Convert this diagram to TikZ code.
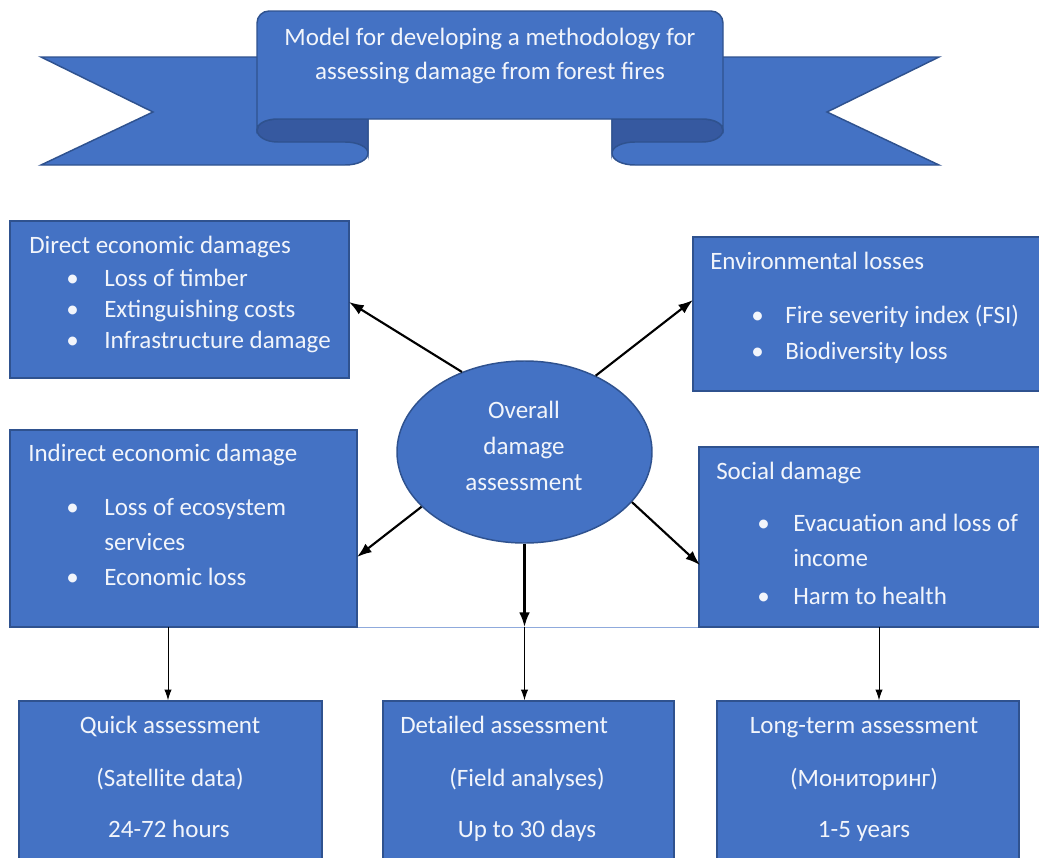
\documentclass[tikz,border=0pt]{standalone}
\usepackage{fontspec}
\setmainfont{Carlito}
\usetikzlibrary{arrows.meta,shapes.geometric}
\definecolor{fillblue}{HTML}{4472C4}
\definecolor{edgeblue}{HTML}{2F528F}
\definecolor{foldblue}{HTML}{3659A0}
\definecolor{lineblue}{HTML}{8FAADC}
\definecolor{txt}{HTML}{F2F5FB}
\begin{document}
\begin{tikzpicture}[x=0.75pt,y=-0.75pt,
  panel/.style={fill=fillblue,draw=edgeblue,line width=1.1pt},
  foldpart/.style={fill=foldblue,draw=edgeblue,line width=1.1pt},
  box/.style={panel,rectangle,inner sep=0pt},
  lbl/.style={text=txt,font=\fontsize{18.75}{23}\selectfont,inner sep=0pt,anchor=base west},
  clbl/.style={lbl,anchor=base},
  bigarrow/.style={line width=1.6pt,-{Latex[length=11pt,width=8pt]}},
  smallarrow/.style={line width=0.7pt,-{Latex[length=8pt,width=5.5pt]}}
]
\useasboundingbox (0,0) rectangle (1039,857);
\clip (0,0) rectangle (1039,857);

% ---- banner ----
\draw[panel] (41,57) -- (368,57) -- (368,153) .. controls (368,160) and (358,165) .. (345,165) -- (41,165) -- (153,112) -- cycle;
\draw[panel] (939,57) -- (612,57) -- (612,153) .. controls (612,160) and (622,165) .. (635,165) -- (939,165) -- (827,112) -- cycle;
\draw[foldpart] (257,130) .. controls (257,124) and (265,119) .. (278,119) -- (368,119) -- (368,153) .. controls (368,147) and (358,142) .. (345,142) -- (278,142) .. controls (265,142) and (257,136) .. (257,130) -- cycle;
\draw[foldpart] (723,130) .. controls (723,124) and (715,119) .. (702,119) -- (612,119) -- (612,153) .. controls (612,147) and (622,142) .. (635,142) -- (702,142) .. controls (715,142) and (723,136) .. (723,130) -- cycle;
\draw[panel] (257,130) [rounded corners=9pt] -- (257,11) -- (723,11) [sharp corners] -- (723,130) .. controls (723,124) and (715,119) .. (702,119) -- (278,119) .. controls (265,119) and (257,124) .. (257,130) -- cycle;
\node[clbl] (t1) at (490,45) {Model for developing a methodology for};
\node[clbl] (t2) at (490,79) {assessing damage from forest fires};

% ---- boxes ----
\node[box,minimum width=254.25pt,minimum height=117.75pt] (direct) at (179.5,299.5) {};
\node[box,minimum width=260.25pt,minimum height=115.5pt] (env) at (866.5,314) {};
\node[box,minimum width=260.25pt,minimum height=147.75pt] (indirect) at (183.5,528.5) {};
\node[box,minimum width=255.75pt,minimum height=135pt] (social) at (869.5,537) {};
\node[box,minimum width=227.25pt,minimum height=134.25pt] (quick) at (170.5,790.5) {};
\node[box,minimum width=218.25pt,minimum height=134.25pt] (detailed) at (528.5,790.5) {};
\node[box,minimum width=226.5pt,minimum height=134.25pt] (long) at (868,790.5) {};
\node[panel,ellipse,inner sep=0pt,minimum width=191.25pt,minimum height=136.5pt] (ov) at (524.5,452) {};

% ---- texts ----
\node[lbl] (d0) at (29,253) {Direct economic damages};
\node[lbl] (d1b) at (66,286) {•};
\node[lbl] (d1) at (104,286) {Loss of timber};
\node[lbl] (d2b) at (66,317) {•};
\node[lbl] (d2) at (104,317) {Extinguishing costs};
\node[lbl] (d3b) at (66,348) {•};
\node[lbl] (d3) at (104,348) {Infrastructure damage};

\node[lbl] (e0) at (710,269) {Environmental losses};
\node[lbl] (e1b) at (751,323) {•};
\node[lbl] (e1) at (785,323) {Fire severity index (FSI)};
\node[lbl] (e2b) at (751,359) {•};
\node[lbl] (e2) at (785,359) {Biodiversity loss};

\node[lbl] (i0) at (28,461) {Indirect economic damage};
\node[lbl] (i1b) at (66,515) {•};
\node[lbl] (i1) at (104,515) {Loss of ecosystem};
\node[lbl] (i1c) at (104,550) {services};
\node[lbl] (i2b) at (66,585) {•};
\node[lbl] (i2) at (104,585) {Economic loss};

\node[lbl] (s0) at (716,479) {Social damage};
\node[lbl] (s1b) at (757,531) {•};
\node[lbl] (s1) at (793,531) {Evacuation and loss of};
\node[lbl] (s1c) at (793,566) {income};
\node[lbl] (s2b) at (757,604) {•};
\node[lbl] (s2) at (793,604) {Harm to health};

\node[clbl] (o1) at (524,418) {Overall};
\node[clbl] (o2) at (524,454) {damage};
\node[clbl] (o3) at (524,490) {assessment};

\node[clbl] (q1) at (170,733) {Quick assessment};
\node[clbl] (q2) at (170,786) {(Satellite data)};
\node[clbl] (q3) at (169,837) {24-72 hours};
\node[lbl] (f1) at (400,733) {Detailed assessment};
\node[clbl] (f2) at (527,786) {(Field analyses)};
\node[clbl] (f3) at (527,837) {Up to 30 days};
\node[clbl] (l1) at (864,733) {Long-term assessment};
\node[clbl] (l2) at (864,786) {(Мониторинг)};
\node[clbl] (l3) at (864,837) {1-5 years};

% ---- connectors ----
\coordinate (tD) at (349,302);
\coordinate (tE) at (693,300);
\coordinate (tI) at (357,557);
\coordinate (tS) at (700,565);
\coordinate (hub) at (524.5,627);
\coordinate (qa) at (168,627);
\coordinate (la) at (879,627);
\draw[bigarrow] (ov.128) -- (tD);
\draw[bigarrow] (ov.47) -- (tE);
\draw[bigarrow] (ov.208) -- (tI);
\draw[bigarrow] (ov.335) -- (tS);
\draw[bigarrow] (ov.south) -- (hub);
\draw[lineblue,line width=0.8pt] (indirect.south east) -- (social.south west);
\draw[smallarrow] (qa) -- (qa |- quick.north);
\draw[smallarrow] (hub) -- (hub |- detailed.north);
\draw[smallarrow] (la) -- (la |- long.north);
\end{tikzpicture}
\end{document}
